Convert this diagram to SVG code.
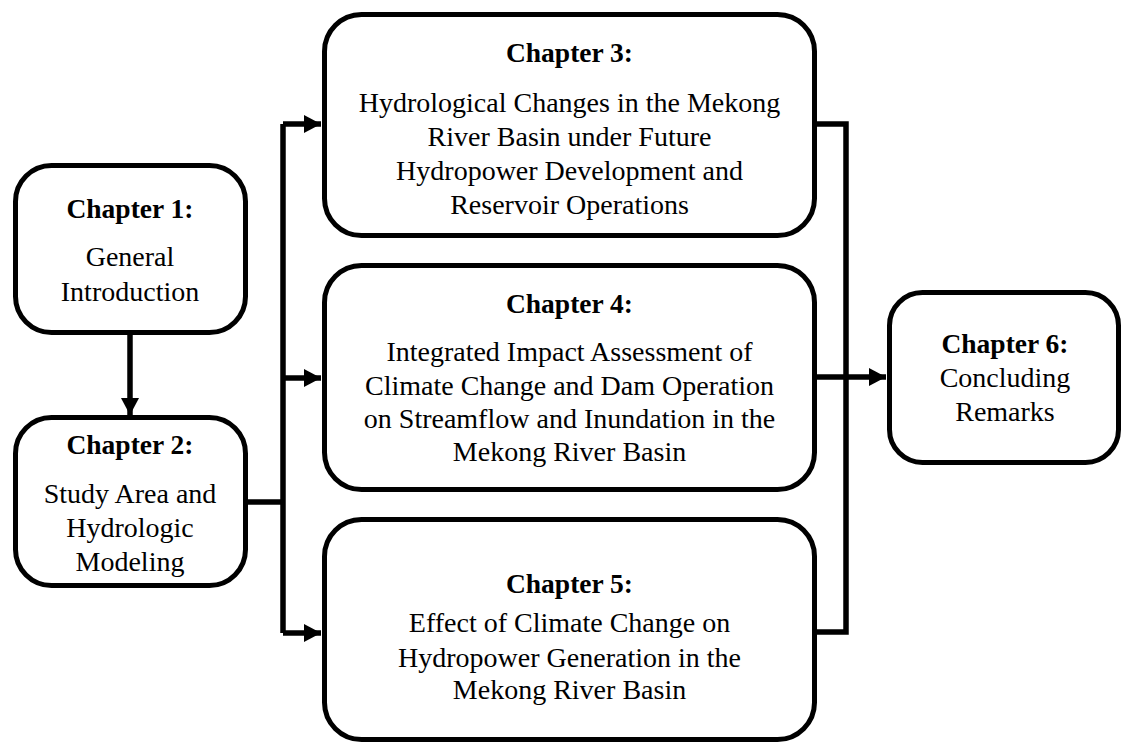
<svg xmlns="http://www.w3.org/2000/svg" width="1122" height="744" viewBox="0 0 1122 744">
<style>
.box{fill:#fff;stroke:#000;stroke-width:5}
.ln{fill:none;stroke:#000;stroke-width:5.5}
text{font-family:'Liberation Serif','Times New Roman','DejaVu Serif',serif;fill:#000;text-anchor:middle}
.t{font-weight:bold;font-size:27.5px}
.b{font-size:28px}
</style>
<defs>
<marker id="ah" markerUnits="userSpaceOnUse" markerWidth="18" markerHeight="18" viewBox="0 0 18 18" refX="17" refY="9" orient="auto">
<path d="M0,0 L17,9 L0,18 Z" fill="#000"/>
</marker>
</defs>
<rect width="1122" height="744" fill="#fff"/>
<g id="connectors">
<line class="ln" x1="130" y1="333" x2="130" y2="415" marker-end="url(#ah)"/>
<polyline class="ln" points="246,502 283,502"/>
<polyline class="ln" points="283,124 283,633"/>
<line class="ln" x1="283" y1="124" x2="321" y2="124" marker-end="url(#ah)"/>
<line class="ln" x1="283" y1="378" x2="321" y2="378" marker-end="url(#ah)"/>
<line class="ln" x1="283" y1="633" x2="321" y2="633" marker-end="url(#ah)"/>
<polyline class="ln" points="815,124 846,124 846,632 815,632"/>
<line class="ln" x1="815" y1="377" x2="886" y2="377" marker-end="url(#ah)"/>
</g>
<g id="node1" font-family="Liberation Serif, serif">
<rect class="box" x="15.5" y="165.5" width="230" height="167" rx="36"/>
<text class="t" x="130" y="218">Chapter 1:</text>
<text class="b" x="130" y="266">General</text>
<text class="b" x="130" y="301">Introduction</text>
</g>
<g id="node2">
<rect class="box" x="15.5" y="417.5" width="230" height="168" rx="36"/>
<text class="t" x="130" y="454">Chapter 2:</text>
<text class="b" x="130" y="503">Study Area and</text>
<text class="b" x="130" y="537">Hydrologic</text>
<text class="b" x="130" y="571">Modeling</text>
</g>
<g id="node3">
<rect class="box" x="324.5" y="14.5" width="490" height="221" rx="37"/>
<text class="t" x="569.5" y="62">Chapter 3:</text>
<text class="b" x="569.5" y="112">Hydrological Changes in the Mekong</text>
<text class="b" x="569.5" y="146">River Basin under Future</text>
<text class="b" x="569.5" y="180">Hydropower Development and</text>
<text class="b" x="569.5" y="214">Reservoir Operations</text>
</g>
<g id="node4">
<rect class="box" x="324.5" y="265.5" width="490" height="224" rx="37"/>
<text class="t" x="569.5" y="313">Chapter 4:</text>
<text class="b" x="569.5" y="361">Integrated Impact Assessment of</text>
<text class="b" x="569.5" y="395">Climate Change and Dam Operation</text>
<text class="b" x="569.5" y="428">on Streamflow and Inundation in the</text>
<text class="b" x="569.5" y="461">Mekong River Basin</text>
</g>
<g id="node5">
<rect class="box" x="324.5" y="519.5" width="490" height="220" rx="37"/>
<text class="t" x="569.5" y="593">Chapter 5:</text>
<text class="b" x="569.5" y="632">Effect of Climate Change on</text>
<text class="b" x="569.5" y="667">Hydropower Generation in the</text>
<text class="b" x="569.5" y="699">Mekong River Basin</text>
</g>
<g id="node6">
<rect class="box" x="889.5" y="292.5" width="229" height="170" rx="33"/>
<text class="t" x="1005" y="353">Chapter 6:</text>
<text class="b" x="1005" y="387">Concluding</text>
<text class="b" x="1005" y="421">Remarks</text>
</g>
</svg>
